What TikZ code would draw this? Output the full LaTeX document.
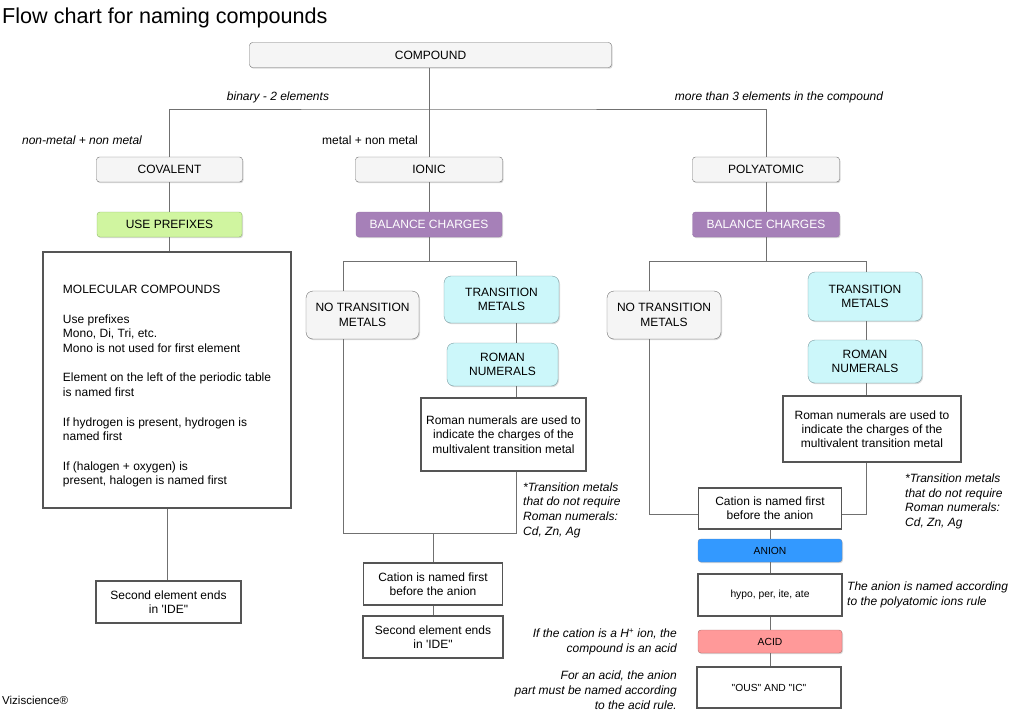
\documentclass[tikz,border=0pt]{standalone}
\usepackage{fontspec}
\setmainfont{Liberation Sans}
\usetikzlibrary{shadows}

\definecolor{boxgray}{HTML}{F5F5F5}
\definecolor{edgegray}{HTML}{6E6E6E}
\definecolor{linegray}{HTML}{707070}
\definecolor{thickgray}{HTML}{555555}
\definecolor{limefill}{HTML}{D0F5A0}
\definecolor{limeedge}{HTML}{8FB86A}
\definecolor{cyanfill}{HTML}{CCF7FA}
\definecolor{cyanedge}{HTML}{7A9AA0}
\definecolor{purplefill}{HTML}{A680B8}
\definecolor{purpleedge}{HTML}{9673A6}
\definecolor{bluefill}{HTML}{3399FF}
\definecolor{blueedge}{HTML}{5A86C0}
\definecolor{redfill}{HTML}{FF9999}
\definecolor{rededge}{HTML}{B0706C}

\tikzset{
    box/.style={draw=edgegray, fill=boxgray, rounded corners=3pt, inner sep=0pt,
        minimum height=25pt, align=center, font=\fontsize{12}{14.3}\selectfont,
        drop shadow={shadow xshift=1pt, shadow yshift=-1.2pt, fill=black!60, opacity=.25}},
    softbox/.style={box, rounded corners=7pt},
    tealbox/.style={softbox, draw=cyanedge, fill=cyanfill},
    limebox/.style={box, draw=limeedge, fill=limefill},
    purplebox/.style={box, draw=purpleedge, fill=purplefill, text=white},
    smallbox/.style={box, minimum height=23pt, font=\fontsize{10.3}{12}\selectfont},
    rulebox/.style={draw=thickgray, line width=1.8pt, fill=white, inner sep=0pt,
        align=center, font=\fontsize{12}{14.3}\selectfont},
    lbl/.style={inner sep=0pt, align=left, font=\fontsize{12}{14.7}\selectfont\itshape},
    link/.style={draw=linegray, line width=0.9pt},
}

\begin{document}
\begin{tikzpicture}[x=1pt, y=-1pt]
    \useasboundingbox (0,0) rectangle (1024,713);

    \node[anchor=base west, inner sep=0pt, font=\fontsize{21.6}{24}\selectfont] (title) at (2,23) {Flow chart for naming compounds};
    \node[anchor=base west, inner sep=0pt, font=\fontsize{11.5}{13}\selectfont] (brand) at (2,704) {Viziscience®};

    % top levels
    \node[box, minimum width=362pt] (compound) at (430.5,55) {COMPOUND};
    \node[box, minimum width=146pt] (covalent) at (169.5,169.5) {COVALENT};
    \node[box, minimum width=147pt] (ionic) at (429,169.5) {IONIC};
    \node[box, minimum width=147pt] (poly) at (766,169.5) {POLYATOMIC};
    \node[limebox, minimum width=145pt] (prefixes) at (169.5,224.5) {USE PREFIXES};
    \node[purplebox, minimum width=146pt] (balI) at (429,224.5) {BALANCE CHARGES};
    \node[purplebox, minimum width=147pt] (balP) at (766,224.5) {BALANCE CHARGES};

    \node[lbl] (binary) at (278,97) {binary - 2 elements};
    \node[lbl] (more) at (779,97) {more than 3 elements in the compound};
    \node[lbl] (nonmetal) at (82,140) {non-metal + non metal};
    \node[lbl, font=\fontsize{12}{14.7}\selectfont] (metal) at (370,140) {metal + non metal};

    % covalent column
    \node[rulebox, minimum width=248pt, minimum height=256pt, align=left, font=\fontsize{12}{14.7}\selectfont] (molecular) at (167,380)
        {\rule{0pt}{21pt}MOLECULAR COMPOUNDS\\[14.7pt]
         Use prefixes\\
         Mono, Di, Tri, etc.\\
         Mono is not used for first element\\[14.7pt]
         Element on the left of the periodic table\\
         is named first\\[14.7pt]
         If hydrogen is present, hydrogen is\\
         named first\\[14.7pt]
         If (halogen + oxygen) is\\
         present, halogen is named first};
    \node[rulebox, minimum width=145pt, minimum height=42pt] (ideC) at (168.5,602) {Second element ends\\in \textquotesingle IDE\textquotedbl};

    % ionic column
    \node[softbox, minimum width=113pt, minimum height=48pt] (notmI) at (362.5,315) {NO TRANSITION\\METALS};
    \node[tealbox, minimum width=115pt, minimum height=47pt] (tmI) at (501.5,299.5) {TRANSITION\\METALS};
    \node[tealbox, minimum width=111pt, minimum height=43pt] (romI) at (502.5,364.5) {ROMAN\\NUMERALS};
    \node[rulebox, minimum width=165pt, minimum height=73pt] (rtxtI) at (503.5,434.5) {Roman numerals are used to\\indicate the charges of the\\multivalent transition metal};
    \node[rulebox, minimum width=139pt, minimum height=42pt] (catI) at (433,584) {Cation is named first\\before the anion};
    \node[rulebox, minimum width=140pt, minimum height=42pt] (ideI) at (433,637) {Second element ends\\in \textquotesingle IDE\textquotedbl};
    \node[lbl, anchor=west] (noteI) at (523,510) {*Transition metals\\that do not require\\Roman numerals:\\Cd, Zn, Ag};

    % polyatomic column
    \node[softbox, minimum width=114pt, minimum height=48pt] (notmP) at (664,315) {NO TRANSITION\\METALS};
    \node[tealbox, minimum width=114pt, minimum height=49pt] (tmP) at (865,296.5) {TRANSITION\\METALS};
    \node[tealbox, minimum width=114pt, minimum height=43pt] (romP) at (865,361.5) {ROMAN\\NUMERALS};
    \node[rulebox, minimum width=178pt, minimum height=66pt] (rtxtP) at (872,429) {Roman numerals are used to\\indicate the charges of the\\multivalent transition metal};
    \node[rulebox, minimum width=143pt, minimum height=41pt] (catP) at (770,508.5) {Cation is named first\\before the anion};
    \node[smallbox, draw=blueedge, fill=bluefill, minimum width=144pt] (anion) at (770,550.5) {ANION};
    \node[rulebox, minimum width=144pt, minimum height=42pt, font=\fontsize{10.3}{12}\selectfont] (hypo) at (770,595) {hypo, per, ite, ate};
    \node[smallbox, draw=rededge, fill=redfill, minimum width=144pt] (acid) at (770,641.5) {ACID};
    \node[rulebox, minimum width=144pt, minimum height=41pt, font=\fontsize{10.3}{12}\selectfont] (ous) at (769,687.5) {\textquotedbl OUS\textquotedbl{} AND \textquotedbl IC\textquotedbl};
    \node[lbl, anchor=west] (noteP) at (905,501.5) {*Transition metals\\that do not require\\Roman numerals:\\Cd, Zn, Ag};
    \node[lbl, anchor=west] (noteAnion) at (847,595) {The anion is named according\\to the polyatomic ions rule};
    \node[lbl, anchor=east, align=right] (noteH) at (677,641.5) {If the cation is a H\textsuperscript{+} ion, the\\compound is an acid};
    \node[lbl, anchor=east, align=right] (noteAcid) at (677,690) {For an acid, the anion\\part must be named according\\to the acid rule.};

    % connectors
    \coordinate (split) at (430,109);
    \draw[link] (compound.south -| ionic) -- (ionic.north);
    \draw[link] (covalent.north) |- (split) -| (poly.north);
    \foreach \a/\b in {covalent/prefixes, prefixes/molecular, molecular/ideC, ionic/balI, poly/balP, catI/ideI, catP/anion, anion/hypo, hypo/acid, acid/ous}
        \draw[link] (\a.south -| \a) -- (\b.north -| \a);

    % ionic branches
    \coordinate (lI) at (343,261);
    \coordinate (rI) at (516,261);
    \coordinate (lbI) at (343,533);
    \coordinate (rbI) at (516,533);
    \draw[link] (balI) -- (balI |- lI);
    \draw[link] (lI |- notmI.north) -- (lI) -- (rI) -- (rI |- tmI.north);
    \draw[link] (rI |- tmI.south) -- (rI |- romI.north);
    \draw[link] (rI |- romI.south) -- (rI |- rtxtI.north);
    \draw[link] (lI |- notmI.south) -- (lbI) -- (rbI) -- (rbI |- rtxtI.south);
    \draw[link] (catI.north) -- (catI.north |- lbI);

    % polyatomic branches
    \coordinate (lP) at (649,261);
    \coordinate (rP) at (866,261);
    \coordinate (lbP) at (649,514);
    \coordinate (rbP) at (866,514);
    \draw[link] (balP) -- (balP |- lP);
    \draw[link] (lP |- notmP.north) -- (lP) -- (rP) -- (rP |- tmP.north);
    \draw[link] (rP |- tmP.south) -- (rP |- romP.north);
    \draw[link] (rP |- romP.south) -- (rP |- rtxtP.north);
    \draw[link] (lP |- notmP.south) -- (lbP) -- (lbP -| catP.west);
    \draw[link] (rP |- rtxtP.south) -- (rbP) -- (rbP -| catP.east);
\end{tikzpicture}
\end{document}
